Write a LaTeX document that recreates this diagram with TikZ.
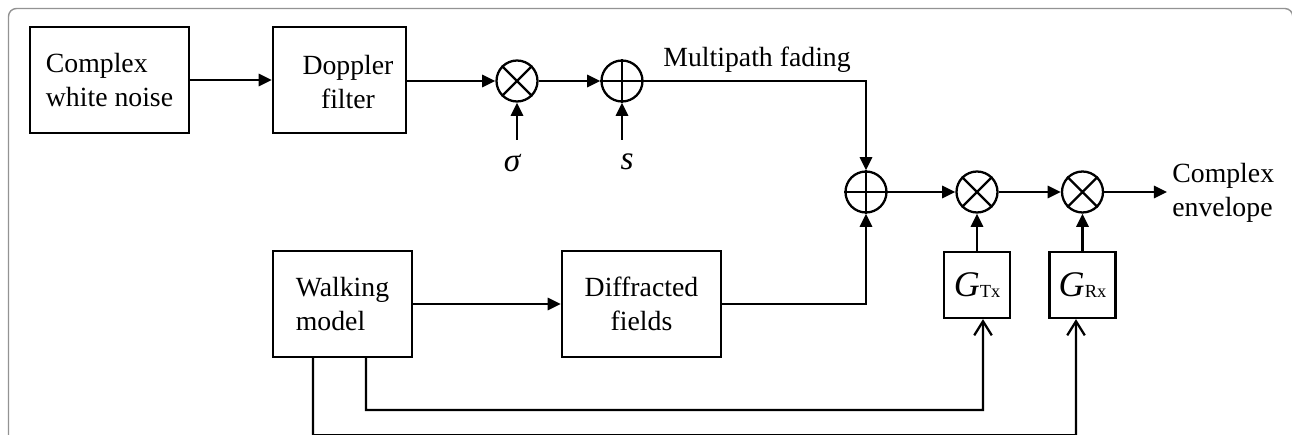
\documentclass[tikz,border=0pt]{standalone}
\usepackage{fontspec}
\setmainfont{Liberation Serif}
\usetikzlibrary{arrows.meta}
\newcommand{\lblfont}{\fontsize{15.8}{19.3}\selectfont}
\newcommand{\gsub}[1]{{\fontsize{20.5}{20.5}\selectfont\itshape G}\raisebox{-0.6pt}{\fontsize{10.5}{10.5}\selectfont #1}}
\begin{document}
\begin{tikzpicture}[x=0.02cm,y=-0.02cm,
  blk/.style={draw, line width=1.3pt, inner sep=0pt, font=\lblfont},
  sumnode/.style={draw, circle, minimum size=0.82cm, inner sep=0pt, line width=1.3pt},
  wire/.style={line width=1.3pt},
  arr/.style={wire, -{Triangle[length=7.5pt,width=7pt]}},
  oarr/.style={wire, -{Straight Barb[length=8pt,width=10pt]}},
  lbl/.style={font=\lblfont, inner sep=0pt}]
\useasboundingbox (0,0) rectangle (1292,435);
% frame
\draw[line width=0.8pt, gray!85, rounded corners=0.16cm] (8.5,8.5) rectangle (1292.8,450);
% blocks
\node[blk, minimum width=3.18cm, minimum height=2.12cm, align=left] (cwn) at (109.5,80) {Complex\\white noise};
\node[blk, minimum width=2.66cm, minimum height=2.12cm] (dop) at (339.5,80) {};
\node[lbl, align=center] (doptxt) at (348,82) {Doppler\\filter};
\node[blk, minimum width=2.78cm, minimum height=2.12cm, align=left] (walk) at (342.5,304) {Walking\\model};
\node[blk, minimum width=3.18cm, minimum height=2.12cm, align=center] (dif) at (641.5,304) {Diffracted\\fields};
\node[blk, minimum width=1.32cm, minimum height=1.32cm] (gtx) at (977,285) {\gsub{Tx}};
\node[blk, minimum width=1.32cm, minimum height=1.32cm] (grx) at (1082.5,285) {\gsub{Rx}};
% summing / multiplying nodes
\node[sumnode] (m1) at (517,81) {};
\node[sumnode] (a1) at (622,81) {};
\node[sumnode] (a2) at (866,192) {};
\node[sumnode] (m2) at (977,192) {};
\node[sumnode] (m3) at (1082.5,192) {};
\foreach \n in {m1,m2,m3}{\draw[wire] (\n.north west)--(\n.south east) (\n.north east)--(\n.south west);}
\foreach \n in {a1,a2}{\draw[wire] (\n.north)--(\n.south) (\n.west)--(\n.east);}
% inputs sigma, s
\coordinate (sig) at (517,140);
\coordinate (sin) at (622,140);
\node[font=\fontsize{19}{19}\selectfont\itshape] (siglbl) at (512,163) {σ};
\node[font=\fontsize{19}{19}\selectfont\itshape] (slbl) at (627,162) {s};
\coordinate (out) at (1167,192);
% connectors
\draw[arr] (cwn.east) -- (dop.west);
\draw[arr] (dop.east |- m1.west) -- (m1.west);
\draw[arr] (m1.east) -- (a1.west);
\draw[arr] (sig) -- (m1.south);
\draw[arr] (sin) -- (a1.south);
\draw[arr] (a1.east) -| (a2.north);
\node[lbl, anchor=base west] (mpf) at (663,67) {Multipath fading};
\draw[arr] (walk.east) -- (dif.west);
\draw[arr] (dif.east) -| (a2.south);
\draw[arr] (a2.east) -- (m2.west);
\draw[arr] (m2.east) -- (m3.west);
\draw[arr] (m3.east) -- (out);
\node[lbl, anchor=west, align=left] (env) at (1172,193) {Complex\\envelope};
\draw[arr] (gtx.north) -- (m2.south);
\draw[arr] (grx.north) -- (m3.south);
\draw[oarr] ([xshift=0.47cm]walk.south) |- (983,410) -- ([xshift=0.12cm]gtx.south);
\draw[oarr] ([xshift=-0.59cm]walk.south) |- (1076,435.3) -- ([xshift=-0.13cm]grx.south);
\end{tikzpicture}
\end{document}
